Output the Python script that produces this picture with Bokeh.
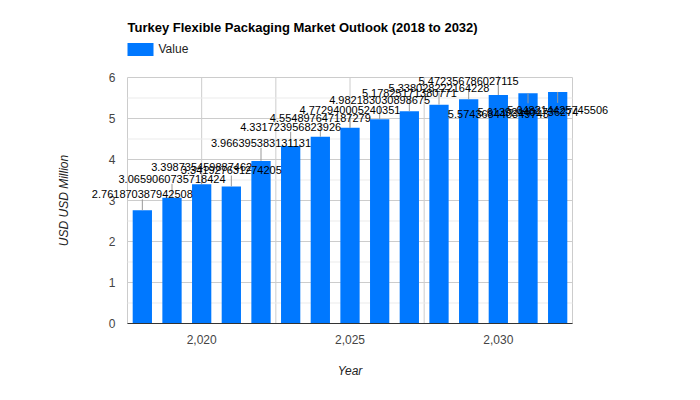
from bokeh.plotting import figure
from bokeh.models import (ColumnDataSource, FixedTicker, NumeralTickFormatter, Range1d,
                          LabelSet, Label, BoxAnnotation)
from bokeh.core.properties import value
from bokeh.embed import file_html
from bokeh.resources import INLINE

# ---- data ----
years = [2018, 2019, 2020, 2021, 2022, 2023, 2024, 2025, 2026, 2027, 2028, 2029, 2030, 2031, 2032]
values = [2.761870387942508, 3.0659060735718424, 3.398735459887462, 3.341927631274205,
          3.966395383131131, 4.331723956823926, 4.554897647187279, 4.772940005240351,
          4.982183030898675, 5.17825171380771, 5.338028222164228, 5.472356786027115,
          5.574368440349743, 5.613924401736274, 5.648214425745506]
x_ticks = [2020, 2025, 2030]
x_minor_ticks = [2017.5, 2022.5, 2027.5, 2032.5]
y_ticks = [0, 1, 2, 3, 4, 5, 6]
y_minor_ticks = [0.5, 1.5, 2.5, 3.5, 4.5, 5.5]
title_text = "Turkey Flexible Packaging Market Outlook (2018 to 2032)"
series_name = "Value"
x_title = "Year"
y_title = "USD USD Million"

# ---- layout (pixels) ----
label_offset_px = [16, 19, 17, 16, 18, 19, 19, 18, 19, 18, 17, 18, -19, -19, -18]
stem_px = [11, 14, 12, 11, 13, 14, 14, 13, 14, 13, 12, 13, 19, -10, -11]

BAR_COLOR = "#0078ff"
FONT = "Liberation Sans"
W, H = 684, 384
# the visible plot area (inside the canvas)
PL, PR, PT, PB = 127, 572, 77, 323
# the Bokeh frame covers the whole canvas so that nothing is clipped
FL, FR, FT, FB = 0, W, 0, H
xa, xb = 2017.5, 2032.5
ya, yb = 0, 6
ppu_x = (PR - PL) / (xb - xa)
ppu_y = (PB - PT) / (yb - ya)
x_range = Range1d(xa - (PL - FL) / ppu_x, xb + (FR - PR) / ppu_x)
y_range = Range1d(ya - (FB - PB) / ppu_y, yb + (PT - FT) / ppu_y)

src = ColumnDataSource(dict(
    year=years,
    value=values,
    label=[repr(v) for v in values],
    label_off=label_offset_px,
    stem_end=[v + s / ppu_y for v, s in zip(values, stem_px)],
))

p = figure(width=W, height=H, x_range=x_range, y_range=y_range,
           output_backend="svg", toolbar_location=None,
           min_border_left=FL, min_border_right=W - FR, min_border_top=FT,
           min_border_bottom=H - FB)
p.min_border = 0
p.outline_line_color = None
p.background_fill_color = "white"
p.border_fill_color = "white"
p.xgrid.visible = False
p.ygrid.visible = False

# axes
p.xaxis.ticker = FixedTicker(ticks=x_ticks)
p.yaxis.ticker = FixedTicker(ticks=y_ticks)
p.xaxis.formatter = NumeralTickFormatter(format="0,0")
for ax in (p.xaxis, p.yaxis):
    ax.major_tick_in = 0
    ax.major_tick_out = 0
    ax.minor_tick_in = 0
    ax.minor_tick_out = 0
    ax.major_label_text_font = FONT
    ax.major_label_text_font_size = "12px"
    ax.major_label_text_color = "#444444"
    ax.axis_label_text_font = FONT
    ax.axis_label_text_font_size = "12px"
    ax.axis_label_text_font_style = "italic"
    ax.axis_label_text_color = "#222222"
p.xaxis.fixed_location = ya
p.xaxis.bounds = (xa, xb)
p.yaxis.fixed_location = xa
p.yaxis.bounds = (ya, yb)
p.xaxis.axis_line_color = "#333333"
p.yaxis.axis_line_color = None
p.xaxis.axis_label = x_title
p.yaxis.axis_label = y_title
p.xaxis.major_label_standoff = 11
p.xaxis.axis_label_standoff = 17
p.yaxis.major_label_standoff = 12
p.yaxis.axis_label_standoff = 35

# grid lines over the plot area only
gx = x_ticks + x_minor_ticks
p.segment(x0=gx, y0=[ya] * len(gx), x1=gx, y1=[yb] * len(gx), line_color="#cccccc")
p.segment(x0=[xa] * len(y_minor_ticks), y0=y_minor_ticks, x1=[xb] * len(y_minor_ticks),
          y1=y_minor_ticks, line_color="#ebebeb")
p.segment(x0=[xa] * len(y_ticks), y0=y_ticks, x1=[xb] * len(y_ticks), y1=y_ticks,
          line_color="#cccccc")

# bars
p.vbar(x="year", top="value", width=0.65, source=src, fill_color=BAR_COLOR, line_color=None)
# annotation stems
p.segment(x0="year", y0="value", x1="year", y1="stem_end", source=src,
          line_color="#999999", line_width=1)
# annotation labels
labels = LabelSet(x="year", y="value", text="label", y_offset="label_off", source=src,
                  text_align="center", text_baseline="middle", text_font=value(FONT),
                  text_font_size=value("11px"), text_color=value("#000000"))
p.add_layout(labels)

# title
p.add_layout(Label(x=xa, y=yb + 50 / ppu_y, text=title_text, text_font=FONT,
                   text_font_size="13px", text_font_style="bold", text_color="#000000",
                   text_align="left", text_baseline="middle"))
# legend
p.add_layout(BoxAnnotation(left=xa, right=xa + 26 / ppu_x,
                           top=yb + 34.6 / ppu_y, bottom=yb + 21.6 / ppu_y,
                           fill_color=BAR_COLOR, fill_alpha=1.0, line_color=None))
p.add_layout(Label(x=xa + 31 / ppu_x, y=yb + 28.3 / ppu_y, text=series_name, text_font=FONT,
                   text_font_size="12px", text_color="#222222",
                   text_align="left", text_baseline="middle"))

open("out.html", "w").write(file_html(p, INLINE))
